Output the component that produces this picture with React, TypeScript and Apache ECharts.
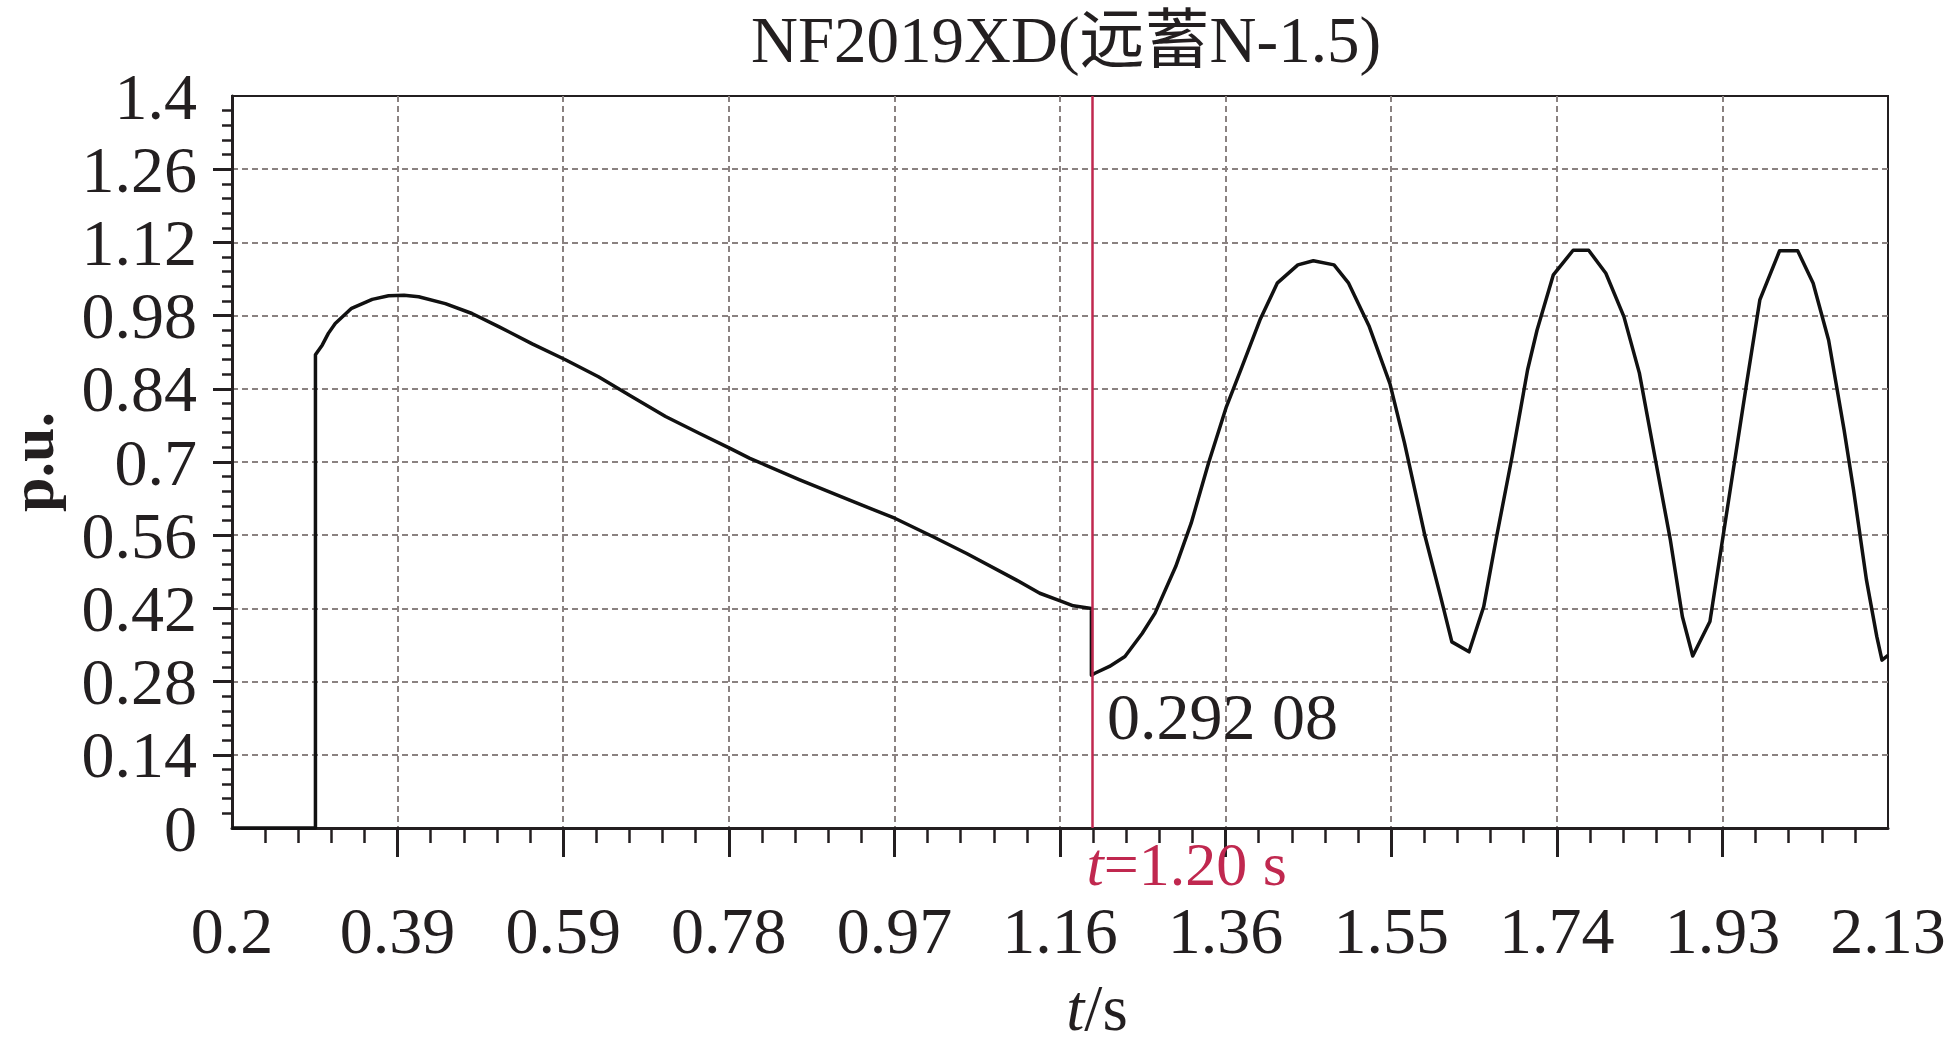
import React, { useEffect, useRef } from "react";
import * as echarts from "echarts";

// ---- data ----
const chartTitle = "NF2019XD(远蓄N-1.5)";
const xTickLabels = ["0.2", "0.39", "0.59", "0.78", "0.97", "1.16", "1.36", "1.55", "1.74", "1.93", "2.13"];
const yTickLabels = ["0", "0.14", "0.28", "0.42", "0.56", "0.7", "0.84", "0.98", "1.12", "1.26", "1.4"];
const X_MIN = 0.2;
const X_MAX = 2.125;
const X_STEP = 0.1925;
const Y_MIN = 0;
const Y_MAX = 1.4;
const Y_STEP = 0.14;

const timeS = [
  0.2, 0.297, 0.297, 0.305, 0.312, 0.32, 0.339, 0.363, 0.382, 0.4, 0.417, 0.448, 0.479, 0.51, 0.549,
  0.587, 0.626, 0.665, 0.704, 0.743, 0.779, 0.802, 0.86, 0.918, 0.971, 1.015, 1.054, 1.112, 1.139,
  1.162, 1.178, 1.199, 1.199, 1.203, 1.22, 1.238, 1.258, 1.273, 1.297, 1.315, 1.335, 1.356, 1.374,
  1.395, 1.415, 1.439, 1.457, 1.481, 1.498, 1.522, 1.546, 1.563, 1.587, 1.605, 1.618, 1.638, 1.655,
  1.67, 1.688, 1.706, 1.717, 1.736, 1.759, 1.777, 1.797, 1.818, 1.836, 1.854, 1.872, 1.886, 1.898,
  1.918, 1.961, 1.976, 1.999, 2.02, 2.038, 2.056, 2.074, 2.085, 2.1, 2.112, 2.118, 2.125,
];
const puValues = [
  0, 0, 0.905, 0.924, 0.946, 0.965, 0.994, 1.011, 1.018, 1.019, 1.016, 1.003, 0.984, 0.959, 0.926,
  0.896, 0.863, 0.825, 0.787, 0.755, 0.726, 0.707, 0.666, 0.627, 0.592, 0.557, 0.525, 0.474, 0.449,
  0.435, 0.425, 0.42, 0.292, 0.296, 0.309, 0.328, 0.372, 0.411, 0.5, 0.583, 0.697, 0.806, 0.882,
  0.972, 1.042, 1.077, 1.085, 1.077, 1.042, 0.959, 0.85, 0.736, 0.557, 0.442, 0.356, 0.337, 0.423,
  0.557, 0.71, 0.876, 0.952, 1.058, 1.105, 1.105, 1.061, 0.978, 0.87, 0.71, 0.551, 0.404, 0.329,
  0.395, 0.854, 1.01, 1.104, 1.104, 1.042, 0.933, 0.761, 0.646, 0.474, 0.366, 0.321, 0.33,
];
const eventTime = 1.202;
const eventLabel = "=1.20 s";
const minPoint = [1.199, 0.29208];
const minLabel = "0.292 08";

const SERIF = '"Liberation Serif", "Times New Roman", "Noto Sans CJK SC", serif';
const INK = "#231f20";
const RED = "#c0284f";
const GRID = "#8a8281";

// interior major tick positions (no ticks at the axis ends, as in the reference)
const xInnerTicks = xTickLabels.slice(1, -1).map((_, i) => +(X_MIN + (i + 1) * X_STEP).toFixed(4));
const yInnerTicks = yTickLabels.slice(1, -1).map((_, i) => +(Y_MIN + (i + 1) * Y_STEP).toFixed(4));

export default function App() {
  const ref = useRef<HTMLDivElement>(null);

  useEffect(() => {
    if (!ref.current) return;
    const chart = echarts.init(ref.current, undefined, { renderer: "svg" });
    const data = timeS.map((t, i) => [t, puValues[i]]);

    chart.setOption({
      animation: false,
      backgroundColor: "#ffffff",
      textStyle: { fontFamily: SERIF },
      title: {
        text: chartTitle,
        left: 1066,
        textAlign: "center",
        top: 5,
        padding: 0,
        textStyle: { fontFamily: SERIF, fontSize: 65, fontWeight: "normal", color: INK, lineHeight: 70 },
      },
      grid: {
        left: 232,
        right: 57,
        top: 96,
        bottom: 218,
        show: true,
        borderColor: INK,
        borderWidth: 2,
        containLabel: false,
        outerBoundsMode: "none",
      },
      xAxis: {
        type: "value",
        min: X_MIN,
        max: X_MAX,
        interval: X_STEP,
        name: "{i|t}/s",
        nameLocation: "middle",
        nameGap: 153,
        nameTextStyle: {
          fontFamily: SERIF,
          fontSize: 65,
          color: INK,
          lineHeight: 54,
          padding: [0, 0, 0, 74],
          rich: { i: { fontFamily: SERIF, fontSize: 65, fontStyle: "italic", color: INK, lineHeight: 54 } },
        },
        axisLine: { show: true, onZero: false, lineStyle: { color: INK, width: 3 } },
        axisTick: {
          show: true,
          inside: false,
          length: 29,
          customValues: xInnerTicks,
          lineStyle: { color: INK, width: 3 },
        },
        minorTick: { show: true, splitNumber: 5, length: 15, lineStyle: { color: INK, width: 2.5 } },
        axisLabel: {
          show: true,
          margin: 76,
          fontFamily: SERIF,
          fontSize: 66,
          lineHeight: 52,
          color: INK,
          showMinLabel: true,
          showMaxLabel: true,
          hideOverlap: false,
          formatter: (val: number) => {
            const i = Math.round((val - X_MIN) / X_STEP);
            return xTickLabels[i] ?? "";
          },
        },
        splitLine: { show: true, lineStyle: { color: GRID, width: 2, type: [6, 4] } },
        minorSplitLine: { show: false },
      },
      yAxis: {
        type: "value",
        min: Y_MIN,
        max: Y_MAX,
        interval: Y_STEP,
        name: "p.u.",
        nameLocation: "middle",
        nameGap: 175,
        nameRotate: 90,
        nameTextStyle: { fontFamily: SERIF, fontSize: 62, fontWeight: "bold", color: INK, lineHeight: 50 },
        axisLine: { show: true, onZero: false, lineStyle: { color: INK, width: 3 } },
        axisTick: {
          show: true,
          inside: false,
          length: 19,
          customValues: yInnerTicks,
          lineStyle: { color: INK, width: 3 },
        },
        minorTick: { show: true, splitNumber: 5, length: 10, lineStyle: { color: INK, width: 2.5 } },
        axisLabel: {
          show: true,
          margin: 35,
          fontFamily: SERIF,
          fontSize: 66,
          lineHeight: 56,
          color: INK,
          showMinLabel: true,
          showMaxLabel: true,
          formatter: (val: number) => {
            const i = Math.round((val - Y_MIN) / Y_STEP);
            return yTickLabels[i] ?? "";
          },
        },
        splitLine: { show: true, lineStyle: { color: GRID, width: 2, type: [6, 4] } },
        minorSplitLine: { show: false },
      },
      series: [
        {
          type: "line",
          data,
          symbol: "none",
          smooth: false,
          clip: false,
          lineStyle: { color: "#111111", width: 3.5, join: "round" },
          z: 3,
          markLine: {
            silent: true,
            symbol: ["none", "none"],
            label: { show: false },
            lineStyle: { color: RED, width: 2.5, type: "solid" },
            data: [{ xAxis: eventTime }],
            z: 4,
          },
          markPoint: {
            silent: true,
            symbol: "circle",
            symbolSize: 1,
            itemStyle: { color: "rgba(0,0,0,0)" },
            data: [
              {
                coord: minPoint,
                label: {
                  show: true,
                  formatter: minLabel,
                  position: [16, 42],
                  align: "left",
                  verticalAlign: "middle",
                  fontFamily: SERIF,
                  fontSize: 66,
                  lineHeight: 52,
                  color: INK,
                },
              },
              {
                coord: [eventTime, 0],
                label: {
                  show: true,
                  formatter: "{i|t}" + eventLabel,
                  position: [-7, 36],
                  align: "left",
                  verticalAlign: "middle",
                  fontFamily: SERIF,
                  fontSize: 62,
                  lineHeight: 48,
                  color: RED,
                  rich: {
                    i: { fontFamily: SERIF, fontSize: 62, fontStyle: "italic", color: RED, lineHeight: 48 },
                  },
                },
              },
            ],
          },
        },
      ],
    });

    return () => chart.dispose();
  }, []);

  return (
    <div
      ref={ref}
      style={{ position: "fixed", left: 0, top: 0, width: 1945, height: 1046, background: "#fff" }}
    />
  );
}
